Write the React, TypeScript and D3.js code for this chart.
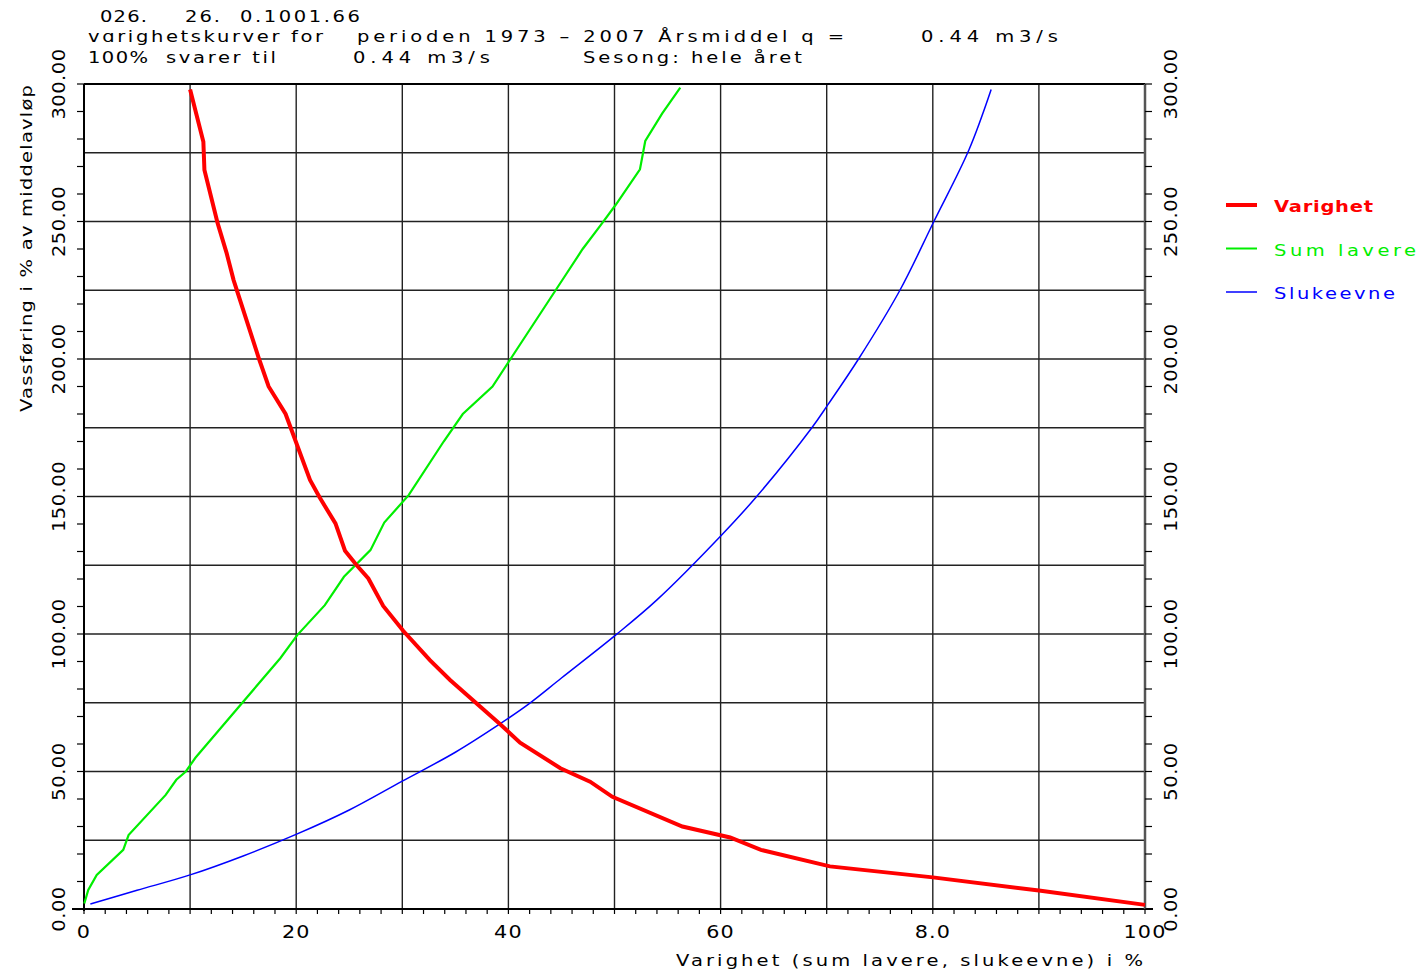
import React from "react";
import * as d3 from "d3";

// Varighet (duration) curve: [duration %, flow % of mean]
const varighet: [number, number][] = [
  [10.0, 298], [11.25, 279], [11.35, 268.7], [12.6, 249.3], [13.45, 238.4], [14.1, 228.7],
  [16.5, 200], [17.4, 190], [19.0, 180], [21.3, 156], [22.2, 149.7], [23.7, 140.2],
  [24.6, 130.3], [25.7, 125], [26.8, 120.2], [28.2, 110.2], [30.1, 101.1], [32.6, 90.5],
  [34.5, 83.3], [39.2, 67.3], [41.1, 60.5], [44.9, 51.2], [47.7, 46.3],
  [49.8, 40.8], [56.4, 30], [60.9, 26], [63.8, 21.5], [70.3, 15.5], [80, 11.5],
  [90, 6.7], [100, 1.5],
];

// Sum lavere curve
const sumLavere: [number, number][] = [
  [0.03, 2], [0.4, 6.9], [1.2, 12.4], [3.7, 21.5], [4.2, 26.9], [7.7, 41.5], [8.7, 47],
  [9.6, 50], [10.5, 55], [18.5, 91.2], [20.1, 99.6], [22.7, 110.5], [24.5, 120.8],
  [27.0, 130.5], [28.3, 140.5], [30.6, 150.5], [33.9, 170], [35.7, 180], [38.5, 190],
  [40.2, 200], [45.3, 230], [47.0, 240], [48.7, 248.7], [50.1, 256], [52.4, 269],
  [52.9, 279.3], [54.5, 289.3], [56.2, 298.7],
];

// Slukeevne curve
const slukeevne: [number, number][] = [
  [0.6, 1.8], [5, 6.8], [10, 12.4], [15, 19.3], [20.1, 27.3], [25, 36], [30, 46.5],
  [35, 57], [39.2, 67.3], [41.9, 74.5], [45, 84], [50.1, 99.6], [54.0, 112.4], [60.1, 136],
  [63.4, 150], [68.6, 175], [70.1, 183.3], [73.0, 200], [76.9, 225], [80.1, 250],
  [83.4, 276], [85.5, 298],
];

const xTickLabels = ["0", "20", "40", "60", "8.0", "100"];
const xTickValues = [0, 20, 40, 60, 80, 100];
const yTickValues = [0, 50, 100, 150, 200, 250, 300];

const legendItems = [
  { name: "Varighet", color: "#ff0000", width: 4, len: 99, bold: true },
  { name: "Sum lavere", color: "#00ee00", width: 2, len: 142, bold: false },
  { name: "Slukeevne", color: "#0000ff", width: 1.5, len: 121, bold: false },
];

const W = 1421;
const H = 973;
const left = 84, right = 1145, top = 84, bottom = 909;
const font = "DejaVu Sans, sans-serif";

// wide plotter-style text: stretched horizontally, forced to a measured width
function Wide(props: {
  x: number; y: number; w: number; s?: number; rot?: boolean;
  size?: number; fill?: string; bold?: boolean; children: React.ReactNode;
}) {
  const s = props.s ?? 1.22;
  const tr = props.rot
    ? `translate(${props.x},${props.y}) rotate(-90) scale(${s},1)`
    : `translate(${props.x},${props.y}) scale(${s},1)`;
  return (
    <text
      transform={tr}
      fontSize={props.size ?? 16}
      fill={props.fill ?? "#000"}
      fontWeight={props.bold ? "bold" : "normal"}
      textLength={props.w / s}
      lengthAdjust="spacing"
      xmlSpace="preserve"
    >
      {props.children}
    </text>
  );
}

export default function App() {
  const x = d3.scaleLinear().domain([0, 100]).range([left, right]);
  const y = d3.scaleLinear().domain([0, 300]).range([bottom, top]);

  const line = d3.line<[number, number]>().x((d) => x(d[0])).y((d) => y(d[1]));
  const smooth = d3
    .line<[number, number]>()
    .x((d) => x(d[0]))
    .y((d) => y(d[1]))
    .curve(d3.curveCatmullRom);

  const vGrid = d3.range(10, 100, 10);
  const hGrid = d3.range(25, 300, 25);
  const yMinor = d3.range(0, 301, 10);
  const xMinor = d3.range(0, 101, 2);

  return (
    <svg
      width={W}
      height={H}
      style={{ position: "absolute", left: 0, top: 0, background: "#fff" }}
      fontFamily={font}
    >
      {/* header */}
      <Wide x={100} y={22} w={47}>026.</Wide>
      <Wide x={185} y={22} w={35}>26.</Wide>
      <Wide x={240} y={22} w={120}>0.1001.66</Wide>
      <Wide x={88} y={42} w={235}>vɑrighetskurver for</Wide>
      <Wide x={357} y={42} w={487}>perioden 1973 – 2007 Årsmiddel q =</Wide>
      <Wide x={921} y={42} w={137}>0.44 m3/s</Wide>
      <Wide x={88} y={63} w={60}>100%</Wide>
      <Wide x={166} y={63} w={110}>svarer til</Wide>
      <Wide x={353} y={63} w={137}>0.44 m3/s</Wide>
      <Wide x={583} y={63} w={219}>Sesong: hele året</Wide>

      {/* grid */}
      <g stroke="#222" strokeWidth={1.4}>
        {vGrid.map((v) => (
          <line key={"v" + v} x1={x(v)} x2={x(v)} y1={top} y2={bottom} />
        ))}
        {hGrid.map((v) => (
          <line key={"h" + v} x1={left} x2={right} y1={y(v)} y2={y(v)} />
        ))}
      </g>

      {/* frame */}
      <g stroke="#000" strokeWidth={2} fill="none">
        <line x1={left} x2={right} y1={top} y2={top} />
        <line x1={left - 12} x2={right + 8} y1={bottom} y2={bottom} />
        <line x1={left} x2={left} y1={top} y2={bottom + 2} />
        <line x1={right} x2={right} y1={top} y2={bottom} stroke="#555" strokeWidth={2.5} />
      </g>

      {/* ticks */}
      <g stroke="#000" strokeWidth={1.2}>
        {yMinor.map((v) => (
          <line key={"yl" + v} x1={left - 7} x2={left} y1={y(v)} y2={y(v)} />
        ))}
        {yMinor.map((v) => (
          <line key={"yr" + v} x1={right} x2={right + 7} y1={y(v)} y2={y(v)} />
        ))}
        {xMinor.map((v) => (
          <line key={"x" + v} x1={x(v)} x2={x(v)} y1={bottom} y2={bottom + 5} />
        ))}
      </g>

      {/* tick labels */}
      <g fontSize={18} fill="#000">
        {xTickValues.map((v, i) => (
          <text
            key={"xl" + v}
            transform={`translate(${x(v)},938) scale(1.15,1)`}
            textAnchor="middle"
            letterSpacing={1}
          >
            {xTickLabels[i]}
          </text>
        ))}
        {yTickValues.map((v) => (
          <text
            key={"yl" + v}
            transform={`translate(65,${y(v)}) rotate(-90) scale(1.08,1)`}
            textAnchor="middle"
            letterSpacing={0.5}
          >
            {v.toFixed(2)}
          </text>
        ))}
        {yTickValues.map((v) => (
          <text
            key={"yr" + v}
            transform={`translate(1177,${y(v)}) rotate(-90) scale(1.08,1)`}
            textAnchor="middle"
            letterSpacing={0.5}
          >
            {v.toFixed(2)}
          </text>
        ))}
      </g>

      {/* axis titles */}
      <Wide x={676} y={966} w={467}>Varighet (sum lavere, slukeevne) i %</Wide>
      <Wide x={32} y={412} w={327} rot>Vassføring i % av middelavløp</Wide>

      {/* curves */}
      <path d={smooth(slukeevne) ?? ""} fill="none" stroke="#0000ff" strokeWidth={1.5} />
      <path d={line(sumLavere) ?? ""} fill="none" stroke="#00ee00" strokeWidth={2.2} />
      <path d={line(varighet) ?? ""} fill="none" stroke="#ff0000" strokeWidth={4} />

      {/* legend */}
      {legendItems.map((d, i) => (
        <g key={d.name}>
          <line
            x1={1226}
            x2={1257}
            y1={205 + i * 43.5}
            y2={205 + i * 43.5}
            stroke={d.color}
            strokeWidth={d.width}
          />
          <Wide x={1274} y={212 + i * 43.5} w={d.len} fill={d.color} bold={d.bold}>
            {d.name}
          </Wide>
        </g>
      ))}
    </svg>
  );
}
